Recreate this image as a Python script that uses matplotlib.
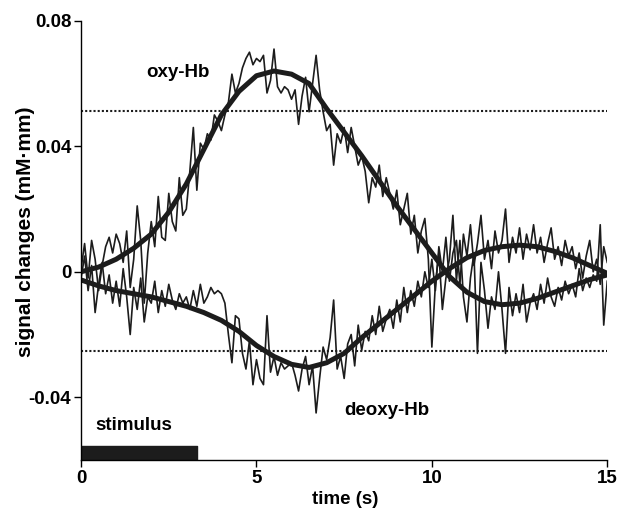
import matplotlib.pyplot as plt
import numpy as np

# time axis of the raw traces (10 Hz)
t_raw = np.arange(151) / 10.0

oxy_raw = [
    0.001, 0.009, -0.002, 0.010, 0.004, -0.006, 0.002, 0.008, 0.011, 0.006,
    0.012, 0.009, 0.003, 0.013, -0.005, 0.004, 0.021, 0.010, -0.010, 0.006,
    0.016, 0.008, 0.024, 0.011, 0.010, 0.025, 0.016, 0.013, 0.030, 0.018,
    0.020, 0.032, 0.046, 0.026, 0.041, 0.039, 0.044, 0.042, 0.050, 0.048,
    0.045, 0.050, 0.054, 0.063, 0.057, 0.060, 0.065, 0.068, 0.070, 0.066,
    0.068, 0.067, 0.069, 0.057, 0.061, 0.071, 0.059, 0.057, 0.059, 0.058,
    0.055, 0.058, 0.047, 0.056, 0.062, 0.051, 0.060, 0.069, 0.058, 0.051,
    0.045, 0.047, 0.034, 0.044, 0.041, 0.046, 0.038, 0.046, 0.040, 0.034,
    0.037, 0.032, 0.022, 0.030, 0.027, 0.034, 0.024, 0.030, 0.025, 0.020,
    0.026, 0.015, 0.020, 0.025, 0.012, 0.018, 0.006, 0.013, 0.017, 0.004,
    -0.024, -0.004, 0.006, -0.012, -0.002, 0.004, 0.018, -0.003, 0.010, -0.008,
    -0.016, -0.002, 0.006, -0.026, 0.003, -0.006, -0.018, -0.008, -0.012, 0.000,
    -0.012, -0.026, -0.005, -0.014, -0.007, -0.013, -0.004, -0.016, -0.010, -0.007,
    -0.012, -0.004, -0.010, -0.002, -0.008, -0.011, -0.005, -0.009, -0.003, -0.007,
    -0.004, -0.008, 0.001, -0.006, -0.002, -0.005, -0.001, -0.003, 0.015, -0.017,
    -0.003,
]

deoxy_raw = [
    -0.002, 0.005, -0.006, 0.002, -0.013, -0.004, 0.003, -0.007, -0.001, -0.010,
    -0.003, -0.011, 0.001, -0.008, -0.020, -0.005, -0.012, -0.002, -0.016, -0.008,
    -0.010, -0.003, -0.013, -0.006, -0.011, -0.004, -0.009, -0.012, -0.007, -0.010,
    -0.008, -0.012, -0.006, -0.011, -0.004, -0.010, -0.008, -0.005, -0.007, -0.006,
    -0.007, -0.010, -0.020, -0.029, -0.014, -0.015, -0.026, -0.031, -0.022, -0.036,
    -0.028, -0.034, -0.036, -0.014, -0.032, -0.027, -0.033, -0.029, -0.031, -0.030,
    -0.029, -0.033, -0.038, -0.031, -0.027, -0.036, -0.030, -0.045, -0.034, -0.024,
    -0.028, -0.021, -0.009, -0.031, -0.027, -0.034, -0.023, -0.020, -0.030, -0.017,
    -0.025, -0.019, -0.022, -0.014, -0.020, -0.011, -0.019, -0.015, -0.012, -0.018,
    -0.009, -0.016, -0.005, -0.013, -0.006, -0.011, -0.003, -0.008, 0.000, -0.005,
    0.004, -0.006, 0.008, 0.000, 0.011, -0.003, 0.006, 0.010, -0.004, 0.012,
    0.005, 0.015, 0.002, 0.009, 0.018, 0.004, 0.010, 0.001, 0.013, 0.006,
    0.010, 0.020, 0.003, 0.011, 0.006, 0.014, 0.004, 0.012, 0.007, 0.015,
    0.006, 0.011, 0.003, 0.009, 0.014, 0.004, 0.008, 0.002, 0.010, 0.005,
    0.008, 0.001, 0.006, -0.002, 0.005, 0.010, 0.000, 0.004, -0.004, 0.008,
    0.003,
]

# fitted curves, sampled every 0.5 s
t_fit = np.arange(31) / 2.0
oxy_fit = [
    0.000, 0.0015, 0.004, 0.0075, 0.012, 0.019, 0.028, 0.039, 0.050, 0.0575,
    0.0625, 0.064, 0.063, 0.060, 0.052, 0.0445, 0.037, 0.029, 0.021, 0.0135,
    0.006, -0.0015, -0.0065, -0.0095, -0.0105, -0.010, -0.0085, -0.0065, -0.0045,
    -0.0025, -0.001,
]
deoxy_fit = [
    -0.0026, -0.0045, -0.006, -0.007, -0.008, -0.0095, -0.011, -0.013, -0.0155,
    -0.019, -0.0235, -0.027, -0.0295, -0.0305, -0.029, -0.026, -0.021, -0.0165,
    -0.012, -0.0075, -0.003, 0.001, 0.0045, 0.0068, 0.008, 0.0085, 0.008, 0.0065,
    0.0045, 0.002, -0.0005,
]

thresholds = [0.0513, -0.0252]
stim_on, stim_off = 0.0, 3.3

plt.rcParams["font.family"] = ["Liberation Sans", "DejaVu Sans"]
plt.rcParams["font.weight"] = "bold"

fig = plt.figure(figsize=(6.19, 5.08), dpi=100)
ax = fig.add_axes([0.131, 0.0945, 0.85, 0.8645])

dark = "#1c1c1c"
ax.plot(t_raw, oxy_raw, color=dark, lw=1.2)
ax.plot(t_raw, deoxy_raw, color=dark, lw=1.2)
ax.plot(t_fit, oxy_fit, color=dark, lw=3.6, solid_capstyle="round")
ax.plot(t_fit, deoxy_fit, color=dark, lw=3.6, solid_capstyle="round")

for y in thresholds:
    ax.axhline(y, color=dark, lw=1.5, ls=(0, (1, 1)))

ax.broken_barh([(stim_on, stim_off - stim_on)], (-0.06, 0.0046), color=dark)
ax.text(0.4, -0.0505, "stimulus", fontsize=13.5, fontweight="bold")
ax.text(1.85, 0.0635, "oxy-Hb", fontsize=13.5, fontweight="bold", va="center")
ax.text(7.5, -0.0442, "deoxy-Hb", fontsize=13.5, fontweight="bold", va="center")

ax.set_xlim(0, 15)
ax.set_ylim(-0.06, 0.08)
ax.set_xticks([0, 5, 10, 15])
ax.set_yticks([-0.04, 0, 0.04, 0.08])
ax.set_yticklabels(["-0.04", "0", "0.04", "0.08"])
ax.tick_params(labelsize=13.5, width=1, length=5, direction="out", pad=2)
for lab in ax.get_xticklabels() + ax.get_yticklabels():
    lab.set_fontweight("bold")

ax.spines["top"].set_visible(False)
ax.spines["right"].set_visible(False)
ax.spines["left"].set_linewidth(1)
ax.spines["bottom"].set_linewidth(1)

ax.set_xlabel("time (s)", fontsize=13.5, fontweight="bold")
ax.set_ylabel("signal changes (mM\u00b7mm)", fontsize=15, fontweight="bold")
ax.xaxis.set_label_coords(0.502, -0.07)
ax.yaxis.set_label_coords(-0.088, 0.52)

fig.savefig("out.png", dpi=100)
